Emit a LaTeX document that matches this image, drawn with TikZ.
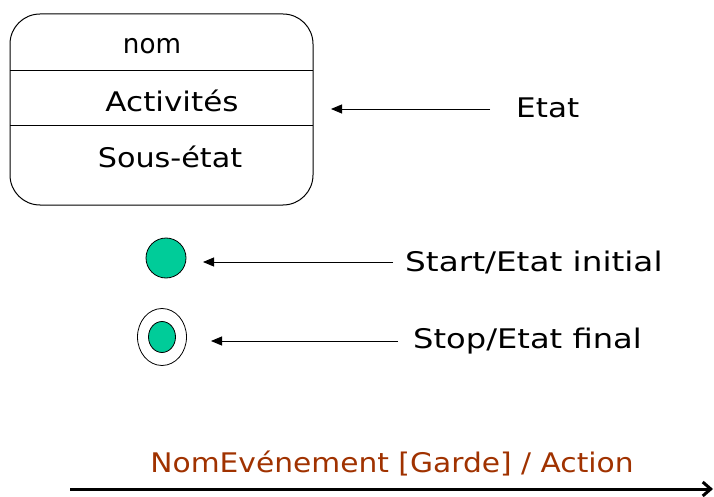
\documentclass[tikz,border=0pt]{standalone}
\usepackage{fontspec}
\setmainfont{DejaVu Sans}
\usetikzlibrary{arrows.meta,shapes.geometric}
\definecolor{stategreen}{RGB}{0,204,153}
\definecolor{evbrown}{RGB}{160,50,0}
\begin{document}
\begin{tikzpicture}[x=1pt,y=-1pt,
  lbl/.style={font=\fontsize{27}{31}\selectfont, inner sep=0pt, anchor=center},
  ptr/.style={draw, line width=0.9pt, -{Triangle[length=11pt,width=9pt]}},
  sep/.style={draw, line width=0.9pt}]
\useasboundingbox (0,0) rectangle (714,497);
\draw[line width=1pt, rounded corners=30pt] (10,14) rectangle (313,205);
\coordinate (s1l) at (10,70); \coordinate (s1r) at (313,70);
\coordinate (s2l) at (10,125); \coordinate (s2r) at (313,125);
\draw[sep] (s1l) -- (s1r);
\draw[sep] (s2l) -- (s2r);
\node[lbl, xscale=0.97] (nom) at (152,46) {nom};
\node[lbl, xscale=1.15] (act) at (172,101) {Activités};
\node[lbl, xscale=1.12] (sous) at (170,157) {Sous-état};
\coordinate (etatTip) at (331,109);
\coordinate (etatTail) at (490,109);
\node[lbl, anchor=west, xscale=1.15] (etat) at (516,108) {Etat};
\draw[ptr] (etatTail) -- (etatTip);
\node[circle, draw, line width=0.8pt, fill=stategreen, minimum size=40pt, inner sep=0pt] (start) at (166,258) {};
\node[lbl, anchor=west, xscale=1.21] (startlbl) at (405,262) {Start/Etat initial};
\coordinate (startTail) at (393,262);
\coordinate (startTip) at (203,262);
\draw[ptr] (startTail) -- (startTip);
\node[ellipse, draw, line width=0.8pt, minimum width=49pt, minimum height=57pt, inner sep=0pt] (stop) at (162,337) {};
\node[ellipse, draw, line width=0.8pt, fill=stategreen, minimum width=27pt, minimum height=31pt, inner sep=0pt] (stopin) at (162,337) {};
\node[lbl, anchor=west, xscale=1.19] (stoplbl) at (413,341) {Stop/Etat final};
\coordinate (stopTail) at (398,341);
\coordinate (stopTip) at (211,341);
\draw[ptr] (stopTail) -- (stopTip);
\node[lbl, text=evbrown, xscale=1.1] (ev) at (392,463) {NomEvénement [Garde] / Action};
\coordinate (evL) at (70,489);
\coordinate (evR) at (713,489);
\draw[line width=3pt, -{Straight Barb[length=8pt,width=14pt]}] (evL) -- (evR);
\end{tikzpicture}
\end{document}
